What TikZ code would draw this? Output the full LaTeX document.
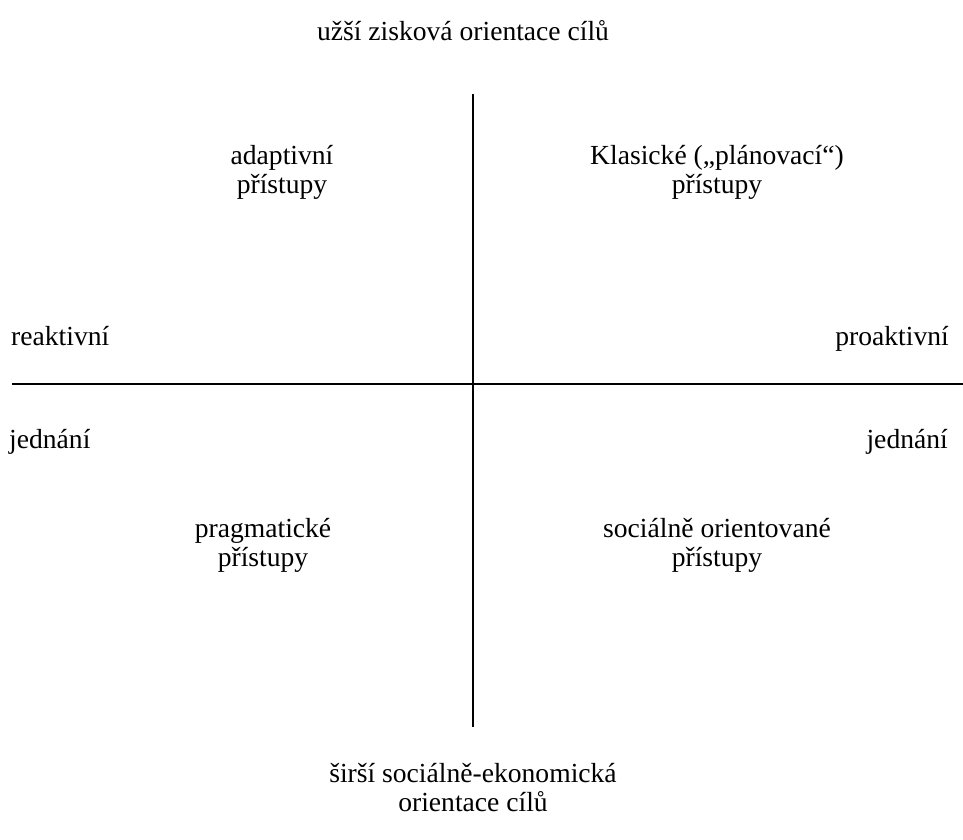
\documentclass[tikz,border=0pt]{standalone}
\usepackage{fontspec}
\setmainfont{Liberation Serif}
\begin{document}
\begin{tikzpicture}[x=1pt,y=-1pt,
  lbl/.style={font=\fontsize{27.6}{29}\selectfont, inner sep=0pt, align=center},
  axis/.style={line width=1.8pt}]
\useasboundingbox (0,0) rectangle (963,839);
\coordinate (vt) at (473,94);
\coordinate (vb) at (473,727);
\coordinate (hl) at (12,384);
\coordinate (hr) at (963,384);
\draw[axis] (vt) -- (vb);
\draw[axis] (hl) -- (hr);
\node[lbl] (top) at (463,31) {užší zisková orientace cílů};
\node[lbl] (adapt) at (282,172) {adaptivní\\přístupy};
\node[lbl] (klas) at (717,172) {Klasické („plánovací“)\\přístupy};
\node[lbl, anchor=base west] (reak) at (11,345) {reaktivní};
\node[lbl, anchor=base east] (proak) at (949,345) {proaktivní};
\node[lbl, anchor=base west] (jedl) at (9,448) {jednání};
\node[lbl, anchor=base east] (jedr) at (948,448) {jednání};
\node[lbl] (prag) at (263,545) {pragmatické\\přístupy};
\node[lbl] (soc) at (717,545) {sociálně orientované\\přístupy};
\node[lbl] (bot) at (473,788) {širší sociálně-ekonomická\\orientace cílů};
\end{tikzpicture}
\end{document}
